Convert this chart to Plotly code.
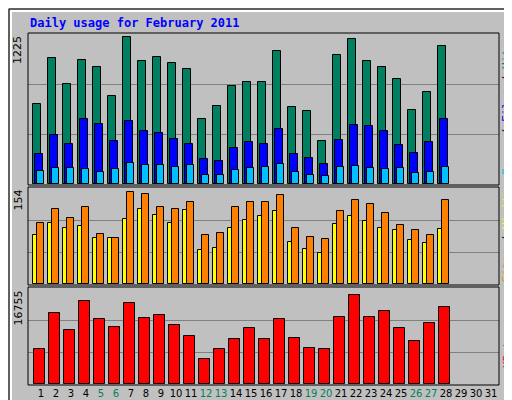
import plotly.graph_objects as go

days = list(range(1, 32))
hits = [653,1029,817,1013,955,719,1200,1004,1037,988,939,531,637,800,833,833,1086,629,596,351,1053,1184,1004,955,857,604,751,1127]
files = [245,400,327,531,490,351,514,433,416,367,327,204,188,294,343,327,449,245,212,163,359,482,474,433,318,253,343,531]
pages = [106,131,131,123,98,123,171,155,155,139,155,73,73,114,131,139,163,98,73,65,139,147,131,123,131,90,98,139]
sites = [79,98,90,93,73,73,104,121,110,98,118,54,58,90,103,109,117,68,56,50,96,109,101,90,86,70,65,89]
visits = [98,121,106,124,81,73,148,145,123,120,132,78,82,124,132,131,143,90,76,72,117,135,129,114,95,86,79,134]
kbytes = [6149,12411,9365,14442,11396,9872,14103,11565,12072,10211,8349,4287,6149,7841,9703,7841,11396,8011,6318,6149,11734,15457,11734,12749,9703,7503,10718,13426]
max_top, max_mid, max_bot = 1225, 154, 16755
weekend = {5, 6, 12, 13, 19, 20, 26, 27}

W, H = 512, 400
x0, x1 = 20, 491
def py(y):  # pixel y -> paper
    return 1 - y / H

fig = go.Figure()
d = days[:28]
def bar(y, color, off, w, ax):
    fig.add_trace(go.Bar(x=d, y=y, marker=dict(color=color, line=dict(color="black", width=1)),
                         offset=off, width=w, xaxis="x", yaxis=ax, showlegend=False))
bar(hits, "#008060", -0.53, 0.5, "y")
bar(files, "#0000FF", -0.4, 0.5, "y")
bar(pages, "#00C0FF", -0.27, 0.5, "y")
bar(sites, "#FFFF00", -0.53, 0.4, "y2")
bar(visits, "#FF8000", -0.27, 0.5, "y2")
bar(kbytes, "#FF0000", -0.47, 0.73, "y3")

xr = [1 - 13 / 15, 31 + 8 / 15]
def yax(mx, top, bot):
    return dict(domain=[py(bot), py(top)], range=[0, mx * 1.0], tickvals=[mx / 3, 2 * mx / 3],
                showticklabels=False, showgrid=True, gridcolor="#808080", gridwidth=1,
                zeroline=False, fixedrange=True, ticks="")

ticktext = [f'<span style="color:{"#00805C" if v in weekend else "black"}">{v}</span>' for v in days]
fig.update_layout(
    width=W, height=H, margin=dict(l=0, r=0, t=0, b=0),
    paper_bgcolor="#C0C0C0", plot_bgcolor="#C0C0C0", barmode="overlay", bargap=0,
    xaxis=dict(domain=[x0 / W, x1 / W], range=xr, tickvals=days, ticktext=ticktext, tickangle=0,
               showgrid=False, zeroline=False, ticks="", anchor="y3",
               tickfont=dict(family="DejaVu Sans", size=10, color="black"), ticklabelstandoff=2),
    yaxis=yax(max_top, 26, 176),
    yaxis2=yax(max_mid, 180, 276),
    yaxis3=yax(max_bot, 280, 376),
    font=dict(family="DejaVu Sans"),
)

shapes = [
    dict(type="rect", xref="paper", yref="paper", x0=1/W, x1=1-1/W, y0=py(398), y1=py(1), line=dict(color="black", width=1), layer="below"),
    dict(type="line", xref="paper", yref="paper", x0=2/W, x1=505/W, y0=py(3), y1=py(3), line=dict(color="white", width=2), layer="below"),
    dict(type="line", xref="paper", yref="paper", x0=3/W, x1=3/W, y0=py(3), y1=py(394), line=dict(color="white", width=2), layer="below"),
    dict(type="rect", xref="paper", yref="paper", x0=507/W, x1=511/W, y0=py(396), y1=py(3), fillcolor="#808080", line=dict(width=0), layer="below"),
    dict(type="rect", xref="paper", yref="paper", x0=3/W, x1=511/W, y0=py(399), y1=py(395), fillcolor="#808080", line=dict(width=0), layer="below"),
]
for top, bot in [(25, 177), (179, 277), (279, 377)]:
    shapes.append(dict(type="rect", xref="paper", yref="paper", x0=x0 / W, x1=x1 / W, y0=py(bot), y1=py(top),
                       line=dict(color="black", width=1)))
fig.update_layout(shapes=shapes)

ann = [
    dict(text="<b>Daily usage for February 2011</b>", x=20 / W, y=py(15), xanchor="left", yanchor="middle",
         font=dict(family="DejaVu Sans Mono", size=12, color="#0000FF")),
]
for lbl, top in [(str(max_top), 26), (str(max_mid), 180), (str(max_bot), 281)]:
    ann.append(dict(text=lbl, x=10 / W, y=py(top), textangle=-90, xanchor="center", yanchor="top",
                    font=dict(family="DejaVu Sans", size=11, color="black")))
sl = '<span style="color:black">/</span>'
right = [
    (f'<span style="color:#00C0FF">Pages</span> {sl} <span style="color:#0000FF">Files</span> {sl} <span style="color:#008060">Hits</span>', 101),
    (f'<span style="color:#FF8000">Sites</span> {sl} <span style="color:#FFFF00">Visits</span>', 228),
    ('<span style="color:#FF0000">KBytes</span>', 340),
]
for t, yc in right:
    ann.append(dict(text=t, x=499 / W, y=py(yc), textangle=-90, xanchor="center", yanchor="middle",
                    font=dict(family="DejaVu Sans Mono", size=11)))
for a in ann:
    a.update(xref="paper", yref="paper", showarrow=False)
fig.update_layout(annotations=ann)

fig.write_html("out.html", config={"displayModeBar": False})
